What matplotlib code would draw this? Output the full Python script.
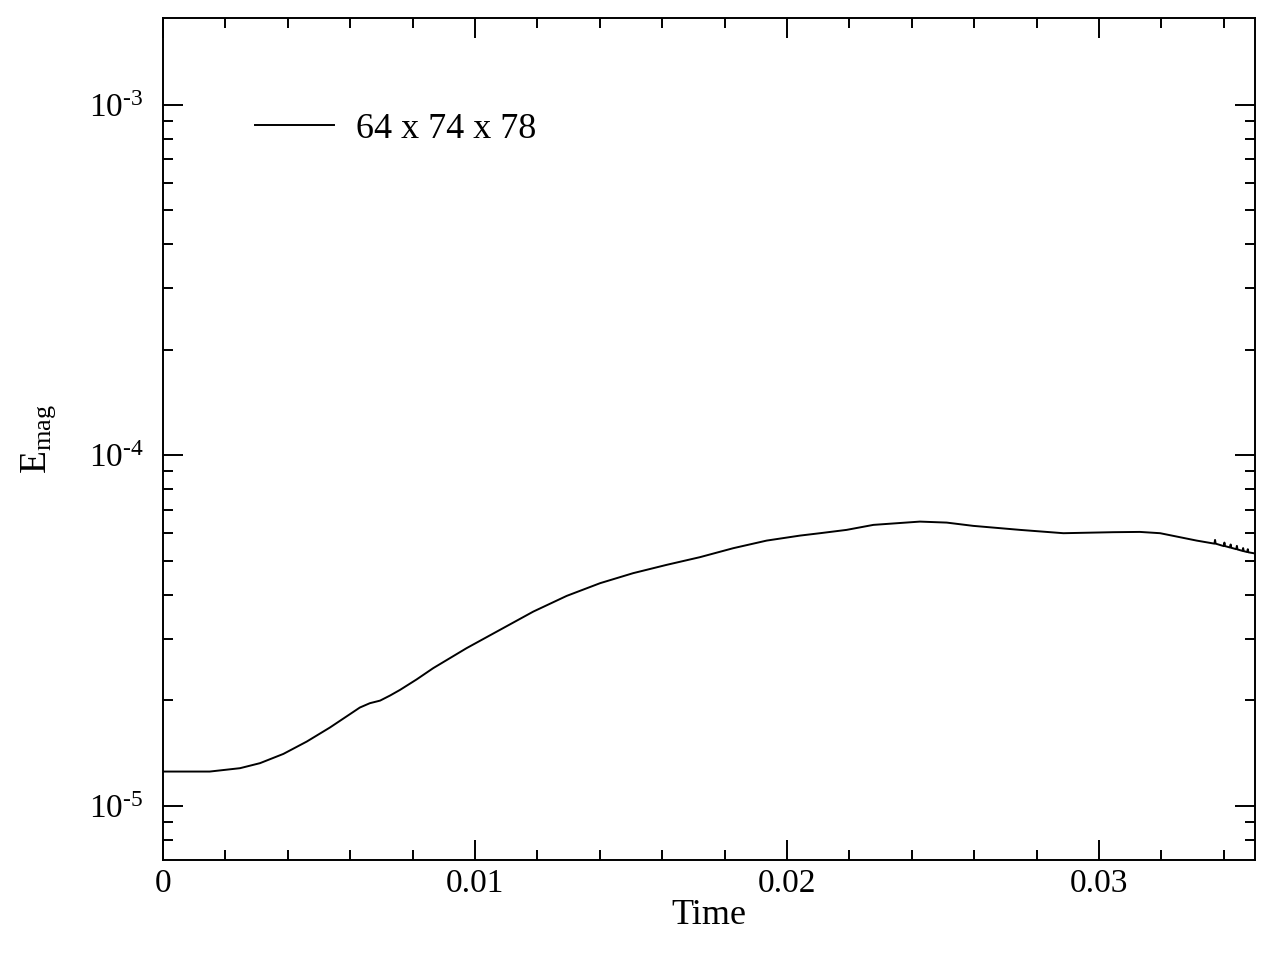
import numpy as np
import matplotlib
matplotlib.use('Agg')
import matplotlib.pyplot as plt
from matplotlib.ticker import MultipleLocator, LogLocator, FuncFormatter

plt.rcParams['font.family'] = 'Liberation Serif'
plt.rcParams['mathtext.fontset'] = 'custom'
plt.rcParams['mathtext.rm'] = 'Liberation Serif'
plt.rcParams['mathtext.it'] = 'Liberation Serif:italic'

# valores
tiempo = [0.0, 0.0015, 0.00247, 0.00311, 0.00386, 0.00461, 0.00535, 0.00599, 0.00631,
          0.00663, 0.00696, 0.00728, 0.00760, 0.00813, 0.00866, 0.00973, 0.01080,
          0.01187, 0.01294, 0.01401, 0.01507, 0.01614, 0.01721, 0.01828, 0.01935,
          0.02042, 0.02106, 0.02191, 0.02277, 0.02426, 0.02512, 0.02597, 0.02747,
          0.02886, 0.03046, 0.03131, 0.03196, 0.03313, 0.03370, 0.03372, 0.03374,
          0.03400, 0.03402, 0.03404, 0.03420, 0.03422, 0.03424, 0.03440, 0.03442,
          0.03444, 0.03460, 0.03462, 0.03464, 0.03475, 0.03477, 0.03479, 0.03495]
emag = [1.253e-5, 1.253e-5, 1.281e-5, 1.324e-5, 1.407e-5, 1.526e-5, 1.673e-5, 1.826e-5, 1.908e-5,
        1.963e-5, 1.997e-5, 2.065e-5, 2.143e-5, 2.295e-5, 2.471e-5, 2.818e-5, 3.178e-5,
        3.584e-5, 3.973e-5, 4.319e-5, 4.613e-5, 4.871e-5, 5.124e-5, 5.436e-5, 5.714e-5,
        5.905e-5, 5.998e-5, 6.130e-5, 6.335e-5, 6.473e-5, 6.431e-5, 6.294e-5, 6.130e-5,
        5.998e-5, 6.038e-5, 6.049e-5, 5.998e-5, 5.714e-5, 5.60e-5, 5.74e-5, 5.60e-5,
        5.51e-5, 5.64e-5, 5.51e-5, 5.46e-5, 5.57e-5, 5.45e-5, 5.40e-5, 5.52e-5,
        5.39e-5, 5.34e-5, 5.44e-5, 5.33e-5, 5.30e-5, 5.40e-5, 5.29e-5, 5.26e-5]
etiqueta = '64 x 74 x 78'
x_ticks = [0, 0.01, 0.02, 0.03]
x_etiquetas = ['0', '0.01', '0.02', '0.03']


def fmt_log(v, pos):
    n = int(round(np.log10(v)))
    return '$\\mathrm{10^{\u2010%d}}$' % (-n)


fig = plt.figure(figsize=(12.75, 9.57), dpi=100)
ax = fig.add_axes([0.1278, 0.1014, 0.8565, 0.8798])

ax.plot(tiempo, emag, color='black', lw=1.4, label=etiqueta)
ax.set_yscale('log')
ax.set_xlim(0, 0.035)
ax.set_ylim(7.01e-6, 1.77e-3)

ax.set_xticks(x_ticks)
ax.set_xticklabels(x_etiquetas)
ax.xaxis.set_minor_locator(MultipleLocator(0.002))
ax.yaxis.set_major_locator(LogLocator(base=10))
ax.yaxis.set_minor_locator(LogLocator(base=10, subs=np.arange(2, 10)))
ax.yaxis.set_major_formatter(FuncFormatter(fmt_log))

ax.tick_params(which='both', direction='in', top=True, right=True, width=1.4)
ax.tick_params(which='major', length=14.4, labelsize=24)
ax.tick_params(axis='x', which='major', pad=6)
ax.tick_params(axis='y', which='major', pad=14)
ax.tick_params(which='minor', length=7.2)
for s in ax.spines.values():
    s.set_linewidth(1.4)

ax.set_xlabel('Time', fontsize=26, labelpad=0)
ax.set_ylabel(r'$\mathrm{E_{mag}}$', fontsize=27, labelpad=22)

ax.legend(loc='center left', bbox_to_anchor=(0.0842, 0.868), frameon=False, fontsize=26,
          handlelength=2.2, handletextpad=0.6, borderpad=0, borderaxespad=0)

fig.savefig('out.png', dpi=100)
